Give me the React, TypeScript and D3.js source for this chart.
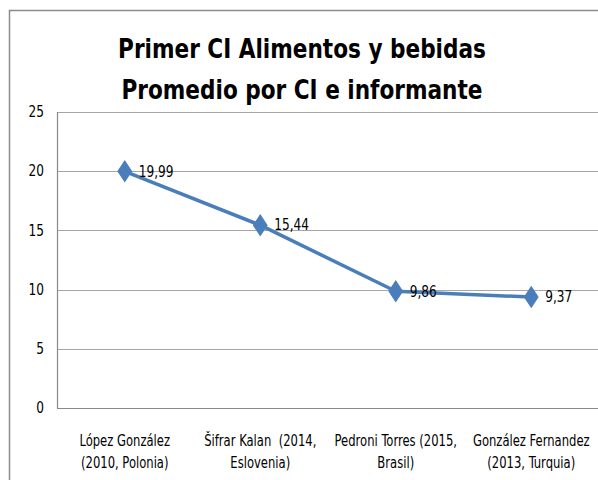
import React, { useEffect, useRef } from "react";
import * as d3 from "d3";

const categories = ["lopez", "sifrar", "pedroni", "gonzalez"];
const categoryLines = [
  ["López González", "(2010, Polonia)"],
  ["Šifrar Kalan  (2014,", "Eslovenia)"],
  ["Pedroni Torres (2015,", "Brasil)"],
  ["González Fernandez", "(2013, Turquia)"],
];
const values = [19.99, 15.44, 9.86, 9.37];
const yTicks = [0, 5, 10, 15, 20, 25];
const titleLines = ["Primer CI Alimentos y bebidas", "Promedio por CI e informante"];

const FONT = "'DejaVu Sans Condensed', 'Liberation Sans Narrow', 'Open Sans', sans-serif";

const App = () => {
  const svgRef = useRef<SVGSVGElement | null>(null);

  useEffect(() => {
    const width = 598;
    const height = 480;
    const margin = { top: 112, right: -1, bottom: 72, left: 57 };
    const chartWidth = width - margin.left - margin.right;
    const chartHeight = height - margin.top - margin.bottom;

    const root = d3.select(svgRef.current);
    root.selectAll("*").remove();
    root.attr("width", width).attr("height", height);

    // narrow text helper, the original uses a condensed font
    const addText = (parent: any, x: number, y: number, txt: string, size: number, sx: number, anchor = "start", bold = false) =>
      parent
        .append("text")
        .attr("transform", `translate(${x}, ${y}) scale(${sx}, 1)`)
        .attr("text-anchor", anchor)
        .attr("dy", "0.35em")
        .style("font-family", FONT)
        .style("font-size", `${size}px`)
        .style("font-weight", bold ? "bold" : "normal")
        .style("fill", "#000")
        .style("white-space", "pre")
        .text(txt);

    // outer chart border
    root
      .append("rect")
      .attr("x", 9.5)
      .attr("y", 10.5)
      .attr("width", 600)
      .attr("height", 480)
      .attr("fill", "#fff")
      .attr("stroke", "#8c8c8c")
      .attr("stroke-width", 1.5);

    // title
    titleLines.forEach((t, i) => {
      addText(root, 302, 49 + i * 41, t, 27, 0.89, "middle", true);
    });

    const svg = root
      .append("g")
      .attr("transform", `translate(${margin.left}, ${margin.top})`);

    const x = d3.scaleBand().domain(categories).range([0, chartWidth]);
    const y = d3.scaleLinear().domain([0, 25]).range([chartHeight, 0]);

    // gridlines
    svg
      .selectAll(".grid")
      .data(yTicks)
      .join("line")
      .attr("class", "grid")
      .attr("x1", 0)
      .attr("x2", chartWidth)
      .attr("y1", (d) => Math.round(y(d)) + 0.5)
      .attr("y2", (d) => Math.round(y(d)) + 0.5)
      .attr("stroke", (d) => (d === 0 ? "#888" : "#a6a6a6"))
      .attr("stroke-width", 1.2);

    // y axis line
    svg
      .append("line")
      .attr("x1", 0.5)
      .attr("x2", 0.5)
      .attr("y1", 0)
      .attr("y2", chartHeight)
      .attr("stroke", "#888")
      .attr("stroke-width", 1.2);

    // y tick labels
    yTicks.forEach((t) => addText(svg, -13, y(t), String(t), 15, 0.9, "end"));

    // category labels
    categories.forEach((c, i) => {
      categoryLines[i].forEach((line, j) => {
        addText(svg, x(c)! + x.bandwidth() / 2, chartHeight + 33 + j * 22, line, 15, 0.86, "middle");
      });
    });

    const pts = categories.map((c, i) => ({ c, v: values[i] }));
    const line = d3
      .line<{ c: string; v: number }>()
      .x((d) => x(d.c)! + x.bandwidth() / 2)
      .y((d) => y(d.v));

    svg
      .append("path")
      .datum(pts)
      .attr("d", line)
      .attr("fill", "none")
      .attr("stroke", "#4a7ebb")
      .attr("stroke-width", 3.5)
      .attr("stroke-linejoin", "round");

    const diamond = d3.symbol().type(d3.symbolDiamond).size(120);
    svg
      .selectAll(".marker")
      .data(pts)
      .join("path")
      .attr("class", "marker")
      .attr("d", diamond)
      .attr("transform", (d) => `translate(${x(d.c)! + x.bandwidth() / 2}, ${y(d.v)}) scale(1.15, 1)`)
      .attr("fill", "#4a7ebb")
      .attr("stroke", "#4a7ebb")
      .attr("stroke-width", 1);

    // data labels
    pts.forEach((d) =>
      addText(svg, x(d.c)! + x.bandwidth() / 2 + 14, y(d.v), d3.format(".2f")(d.v).replace(".", ","), 15, 0.9)
    );
  }, []);

  return (
    <div style={{ position: "absolute", left: 0, top: 0, width: 598, height: 480, overflow: "hidden", background: "#fff" }}>
      <svg ref={svgRef} style={{ display: "block" }}></svg>
    </div>
  );
};

export default App;
